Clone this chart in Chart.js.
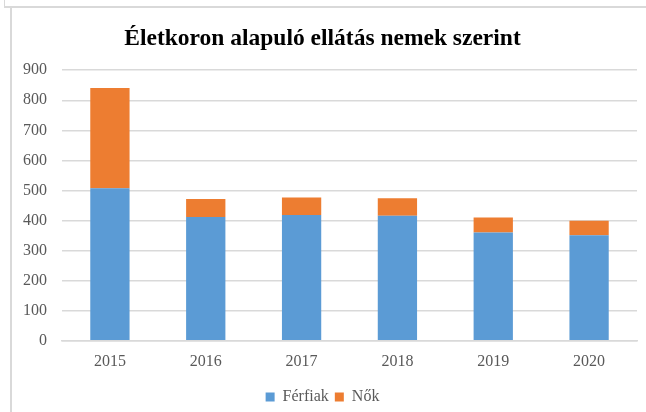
<!DOCTYPE html>
<html>
<head>
<meta charset="utf-8">
<script src="https://cdn.jsdelivr.net/npm/chart.js@4"></script>
<style>
  html, body { margin: 0; padding: 0; background: #fff; }
  body { width: 646px; height: 412px; position: relative; overflow: hidden; }
  .edge-top { position: absolute; left: 4px; top: 6px; right: 0; height: 2px; background: #d9d9d9; }
  .edge-tl { position: absolute; left: 4px; top: 0; width: 1px; height: 7px; background: #d9d9d9; }
  .edge-left { position: absolute; left: 10px; top: 8px; bottom: 0; width: 2px; background: #d9d9d9; }
  #wrap { position: absolute; left: 8px; top: 9px; width: 638px; height: 406px; }
</style>
</head>
<body>
<div class="edge-tl"></div>
<div class="edge-top"></div>
<div class="edge-left"></div>
<div id="wrap"><canvas id="myChart"></canvas></div>
<script>
// values
const years = ['2015', '2016', '2017', '2018', '2019', '2020'];
const ferfiak = [507, 412, 418, 416, 360, 351];
const nok = [334, 60, 59, 58, 50, 48];
const yTicks = [0, 100, 200, 300, 400, 500, 600, 700, 800, 900];

const ctx = document.getElementById('myChart');
const serif = 'Liberation Serif, Times New Roman, serif';

new Chart(ctx, {
    type: 'bar',
    data: {
        labels: years,
        datasets: [{
            label: 'Férfiak',
            data: ferfiak,
            backgroundColor: '#5b9bd5',
            categoryPercentage: 1,
            barPercentage: 0.41
        }, {
            label: 'Nők',
            data: nok,
            backgroundColor: '#ed7d31',
            categoryPercentage: 1,
            barPercentage: 0.41
        }]
    },
    options: {
        responsive: true,
        maintainAspectRatio: false,
        animation: false,
        layout: {
            padding: { left: 0, right: 9, top: 0, bottom: 0 }
        },
        scales: {
            x: {
                stacked: true,
                grid: { display: false, drawTicks: false },
                border: { display: true, color: '#d9d9d9', width: 1.5 },
                ticks: { color: '#595959', font: { family: serif, size: 16 }, padding: 11.5 }
            },
            y: {
                stacked: true,
                min: 0,
                max: 900,
                afterBuildTicks: function (scale) { scale.ticks = yTicks.map(v => ({ value: v })); },
                grid: { color: '#d9d9d9', lineWidth: 1.5, drawTicks: false },
                border: { display: false },
                ticks: { color: '#595959', font: { family: serif, size: 16 }, padding: 15 }
            }
        },
        plugins: {
            title: {
                display: true,
                text: 'Életkoron alapuló ellátás nemek szerint',
                color: '#000',
                font: { family: serif, size: 23.5, weight: 'bold' },
                padding: { top: 16, bottom: 17 }
            },
            legend: {
                position: 'bottom',
                labels: {
                    boxWidth: 9,
                    boxHeight: 9,
                    padding: 6,
                    color: '#595959',
                    font: { family: serif, size: 16 }
                }
            },
            tooltip: { enabled: false }
        }
    }
});
</script>
</body>
</html>
